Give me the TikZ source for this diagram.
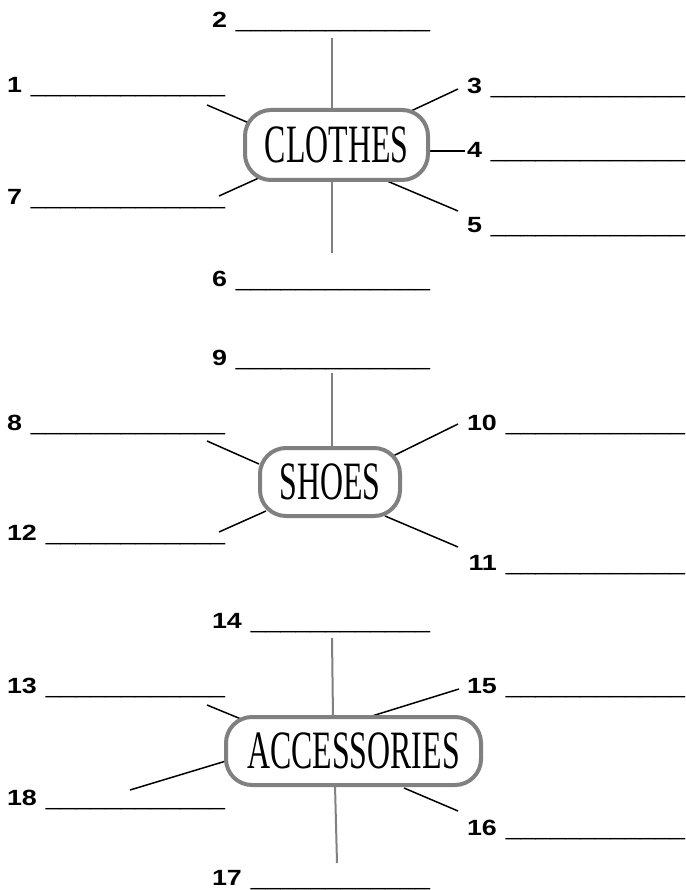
\documentclass[tikz,border=0pt]{standalone}
\usepackage{fontspec}
\setmainfont{Liberation Sans}
\newfontfamily\lblfont[FakeStretch=1.22]{Liberation Sans}
\newfontfamily\hubfont[FakeStretch=0.59]{Liberation Serif}
\definecolor{boxgray}{RGB}{128,128,128}
\newcommand\ulA{\_\_\_\_\_\_\_\_\_\_\_\_}
\newcommand\ulB{\_\_\_\_\_\_\_\_\_\_\_\_\_}
\begin{document}
\begin{tikzpicture}[x=1pt,y=-1pt,
  lbl/.style={inner sep=0pt, outer sep=0pt, anchor=base east, font=\lblfont\fontsize{22}{26}\selectfont},
  hub/.style={draw=boxgray, line width=4pt, fill=white, rounded corners=26pt, inner sep=0pt, font=\hubfont\fontsize{54}{60}\selectfont},
  spoke/.style={line width=1.5pt, black},
  stem/.style={line width=2pt, boxgray}]
\useasboundingbox (0,0) rectangle (685,890);

% ---------- labels ----------
\node[lbl] (l1)  at (225,93)  {\textbf{1}\hspace{9pt}\ulB};
\node[lbl] (l2)  at (430,28)  {\textbf{2}\hspace{9pt}\ulB};
\node[lbl] (l3)  at (685,94)  {\textbf{3}\hspace{9pt}\ulB};
\node[lbl] (l4)  at (685,158) {\textbf{4}\hspace{9pt}\ulB};
\node[lbl] (l5)  at (685,233) {\textbf{5}\hspace{9pt}\ulB};
\node[lbl] (l6)  at (430,287) {\textbf{6}\hspace{9pt}\ulB};
\node[lbl] (l7)  at (225,205) {\textbf{7}\hspace{9pt}\ulB};
\node[lbl] (l8)  at (225,430) {\textbf{8}\hspace{9pt}\ulB};
\node[lbl] (l9)  at (430,365) {\textbf{9}\hspace{9pt}\ulB};
\node[lbl] (l10) at (685,430) {\textbf{10}\hspace{9pt}\ulA};
\node[lbl] (l11) at (685,570) {\textbf{11}\hspace{9pt}\ulA};
\node[lbl] (l12) at (225,540) {\textbf{12}\hspace{9pt}\ulA};
\node[lbl] (l13) at (225,693) {\textbf{13}\hspace{9pt}\ulA};
\node[lbl] (l14) at (430,628) {\textbf{14}\hspace{9pt}\ulA};
\node[lbl] (l15) at (685,693) {\textbf{15}\hspace{9pt}\ulA};
\node[lbl] (l16) at (685,835) {\textbf{16}\hspace{9pt}\ulA};
\node[lbl] (l17) at (430,885) {\textbf{17}\hspace{9pt}\ulA};
\node[lbl] (l18) at (225,805) {\textbf{18}\hspace{9pt}\ulA};

% ---------- connector end points ----------
% CLOTHES
\coordinate (c1a) at (207,105);   \coordinate (c1b) at (249,123);
\coordinate (c7a) at (219,196);   \coordinate (c7b) at (261,177);
\coordinate (c3a) at (458,89);    \coordinate (c3b) at (411,111);
\coordinate (c4a) at (465,151);   \coordinate (c4b) at (428,151);
\coordinate (c5a) at (458,211);   \coordinate (c5b) at (387,181);
\coordinate (c2a) at (332,38);    \coordinate (c2b) at (332,110);
\coordinate (c6a) at (332,253);   \coordinate (c6b) at (332,180);
% SHOES
\coordinate (c8a) at (207,441);   \coordinate (c8b) at (259,464);
\coordinate (c12a) at (219,532);  \coordinate (c12b) at (266,511);
\coordinate (c10a) at (458,424);  \coordinate (c10b) at (393,456);
\coordinate (c11a) at (458,547);  \coordinate (c11b) at (385,516);
\coordinate (c9a) at (332,373);   \coordinate (c9b) at (332,448);
% ACCESSORIES
\coordinate (c13a) at (207,705);  \coordinate (c13b) at (241,719);
\coordinate (c18a) at (130,790);  \coordinate (c18b) at (226,761);
\coordinate (c15a) at (459,689);  \coordinate (c15b) at (372,716);
\coordinate (c16a) at (458,811);  \coordinate (c16b) at (404,788);
\coordinate (c14a) at (332,638);  \coordinate (c14b) at (333,717);
\coordinate (c17a) at (337,863);  \coordinate (c17b) at (335,785);

% ---------- connectors ----------
\draw[spoke] (c1a) -- (c1b);
\draw[spoke] (c7a) -- (c7b);
\draw[spoke] (c3a) -- (c3b);
\draw[spoke] (c4a) -- (c4b);
\draw[spoke] (c5a) -- (c5b);
\draw[stem]  (c2a) -- (c2b);
\draw[stem]  (c6a) -- (c6b);

\draw[spoke] (c8a) -- (c8b);
\draw[spoke] (c12a) -- (c12b);
\draw[spoke] (c10a) -- (c10b);
\draw[spoke] (c11a) -- (c11b);
\draw[stem]  (c9a) -- (c9b);

\draw[spoke] (c13a) -- (c13b);
\draw[spoke] (c18a) -- (c18b);
\draw[spoke] (c15a) -- (c15b);
\draw[spoke] (c16a) -- (c16b);
\draw[stem]  (c14a) -- (c14b);
\draw[stem]  (c17a) -- (c17b);

% ---------- hubs ----------
\node[hub, minimum width=183pt, minimum height=70pt] (clothes) at (336.5,145) {CLOTHES};
\node[hub, minimum width=140pt, minimum height=68pt] (shoes) at (330,482) {SHOES};
\node[hub, minimum width=255pt, minimum height=68pt] (acc) at (353.5,751) {ACCESSORIES};
\end{tikzpicture}
\end{document}
